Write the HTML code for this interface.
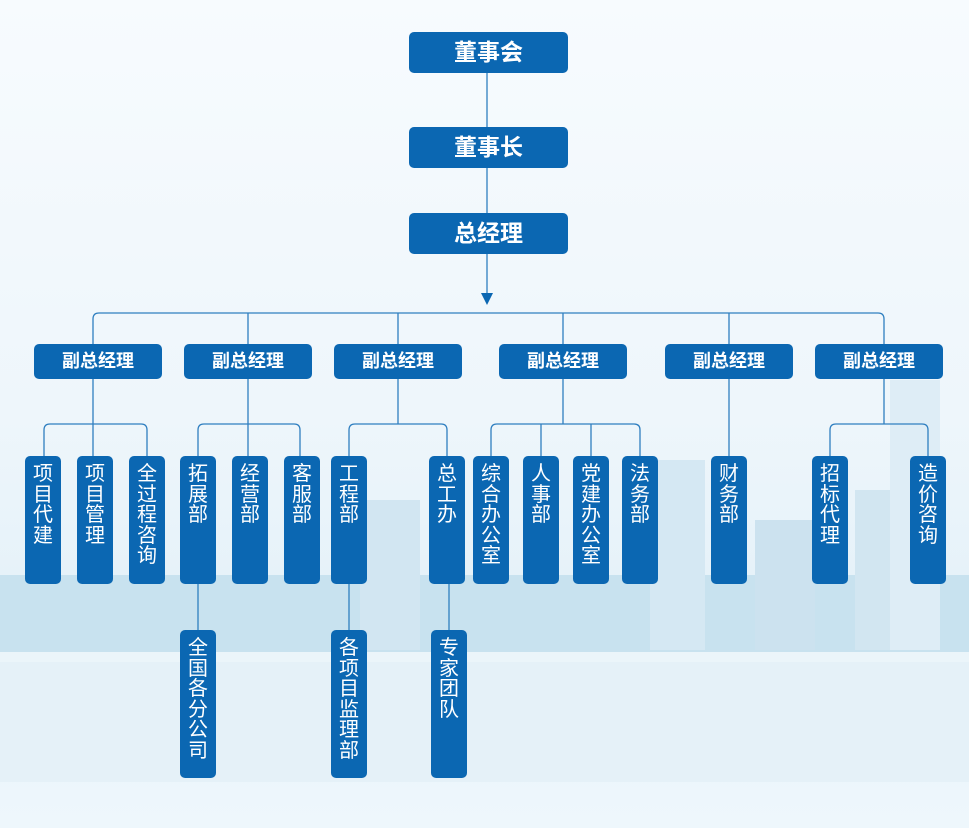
<!DOCTYPE html>
<html><head><meta charset="utf-8"><style>
html,body{margin:0;padding:0}
body{width:969px;height:828px;position:relative;overflow:hidden;background:linear-gradient(180deg,#f7fbfe 0%,#eef6fb 50%,#e6f2f9 70%,#eef7fc 100%);font-family:"Liberation Sans","Noto Sans CJK SC",sans-serif}
.b{position:absolute;background:#0b67b2;color:#fff;border-radius:5px;text-align:center;font-weight:bold}
.t{width:159px;height:41px;left:409px;line-height:41px;font-size:23px}
.v{width:128px;height:35px;top:344px;line-height:35px;font-size:18px}
.d{width:36px;top:456px;height:128px;font-size:20px;line-height:20.5px;padding-top:8px;box-sizing:border-box;font-weight:normal;white-space:pre}
.e{top:630px;height:148px}
svg{position:absolute;left:0;top:0}
.bg{position:absolute;background:#c9e2f0}
</style></head><body>
<div class="bg" style="left:0;top:575px;width:969px;height:77px;background:#c8e2ef"></div>
<div class="bg" style="left:360px;top:500px;width:60px;height:150px;background:#d2e6f2"></div>
<div class="bg" style="left:650px;top:460px;width:55px;height:190px;background:#d5e8f3"></div>
<div class="bg" style="left:755px;top:520px;width:60px;height:130px;background:#cce2ef"></div>
<div class="bg" style="left:855px;top:490px;width:60px;height:160px;background:#d2e6f1"></div>
<div class="bg" style="left:890px;top:380px;width:50px;height:270px;background:#deedf6"></div>
<div class="bg" style="left:0;top:652px;width:969px;height:10px;background:#ebf5fa"></div>
<div class="bg" style="left:0;top:662px;width:969px;height:120px;background:#e5f1f8"></div>
<svg width="969" height="828" fill="none" stroke="#2f7fc0" stroke-width="1.3">
<path d="M487 73V127M487 168V213M487 254V298"/>
<path d="M481 293L487 305L493 293Z" fill="#0b67b2" stroke="none"/>
<path d="M93 344V319Q93 313 99 313H878Q884 313 884 319V344M248 313V344M398 313V344M563 313V344M729 313V344"/>
<path d="M93 379V456M44 456V430Q44 424 50 424H141Q147 424 147 430V456"/>
<path d="M248 379V456M198 456V430Q198 424 204 424H294Q300 424 300 430V456"/>
<path d="M398 379V424M349 456V430Q349 424 355 424H441Q447 424 447 430V456"/>
<path d="M563 379V424M491 456V430Q491 424 497 424H634Q640 424 640 430V456M541 424V456M591 424V456"/>
<path d="M729 379V456"/>
<path d="M884 379V424M830 456V430Q830 424 836 424H922Q928 424 928 430V456"/>
<path d="M198 584V630M349 584V630M449 584V630"/>
</svg>
<div class="b t" style="top:32px">董事会</div>
<div class="b t" style="top:127px">董事长</div>
<div class="b t" style="top:213px">总经理</div>
<div class="b v" style="left:34px">副总经理</div>
<div class="b v" style="left:184px">副总经理</div>
<div class="b v" style="left:334px">副总经理</div>
<div class="b v" style="left:499px">副总经理</div>
<div class="b v" style="left:665px">副总经理</div>
<div class="b v" style="left:815px">副总经理</div>
<div class="b d" style="left:25px">项
目
代
建</div>
<div class="b d" style="left:77px">项
目
管
理</div>
<div class="b d" style="left:129px">全
过
程
咨
询</div>
<div class="b d" style="left:180px">拓
展
部</div>
<div class="b d" style="left:232px">经
营
部</div>
<div class="b d" style="left:284px">客
服
部</div>
<div class="b d" style="left:331px">工
程
部</div>
<div class="b d" style="left:429px">总
工
办</div>
<div class="b d" style="left:473px">综
合
办
公
室</div>
<div class="b d" style="left:523px">人
事
部</div>
<div class="b d" style="left:573px">党
建
办
公
室</div>
<div class="b d" style="left:622px">法
务
部</div>
<div class="b d" style="left:711px">财
务
部</div>
<div class="b d" style="left:812px">招
标
代
理</div>
<div class="b d" style="left:910px">造
价
咨
询</div>
<div class="b d e" style="left:180px">全
国
各
分
公
司</div>
<div class="b d e" style="left:331px">各
项
目
监
理
部</div>
<div class="b d e" style="left:431px">专
家
团
队</div>
</body></html>
